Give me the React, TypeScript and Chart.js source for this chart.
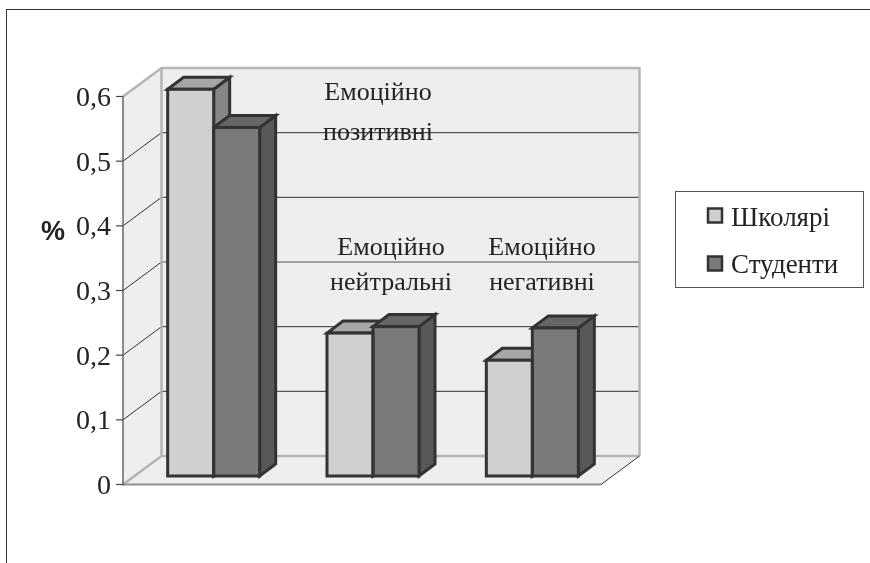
import React, { useEffect, useRef } from "react";
import { Chart, registerables } from "chart.js";

Chart.register(...registerables);

const categories = ["Емоційно позитивні", "Емоційно нейтральні", "Емоційно негативні"];
const school = [0.598, 0.221, 0.179];
const students = [0.539, 0.231, 0.229];
const seriesNames = ["Школярі", "Студенти"];
const yTicks = [0, 0.1, 0.2, 0.3, 0.4, 0.5, 0.6];

const SERIF = '"Liberation Serif", "Times New Roman", serif';
const TEXT = "#232323";
const EDGE = "#333333";
const FRONT = ["#d0d0d0", "#7a7a7a"];
const TOP = ["#a6a6a6", "#666666"];
const SIDE = ["#868686", "#585858"];

const WALL_DX = 38.5;
const WALL_DY = -28.5;
const BAR_DX = 16;
const BAR_DY = -12;
const FLOOR_SHIFT_X = 11;
const FLOOR_SHIFT_PX = 8.5;
const UNIT_PX = 388 / 0.6;

const LABEL_LINES = [
  { x: 378, y: [93, 133], lines: ["Емоційно", "позитивні"] },
  { x: 391, y: [248, 283], lines: ["Емоційно", "нейтральні"] },
  { x: 542, y: [248, 283], lines: ["Емоційно", "негативні"] },
];

function poly(ctx: CanvasRenderingContext2D, pts: number[][], fill?: string) {
  ctx.beginPath();
  pts.forEach((p, i) => (i ? ctx.lineTo(p[0], p[1]) : ctx.moveTo(p[0], p[1])));
  ctx.closePath();
  if (fill) {
    ctx.fillStyle = fill;
    ctx.fill();
  }
}

function seg(ctx: CanvasRenderingContext2D, a: number[], b: number[], color: string, w: number) {
  ctx.beginPath();
  ctx.moveTo(a[0], a[1]);
  ctx.lineTo(b[0], b[1]);
  ctx.strokeStyle = color;
  ctx.lineWidth = w;
  ctx.stroke();
}

const scene3d = {
  id: "scene3d",
  beforeDatasetsDraw(chart: any) {
    const ctx = chart.ctx as CanvasRenderingContext2D;
    const { left, right, top, bottom } = chart.chartArea;
    const y = chart.scales.y;
    const x0 = left - FLOOR_SHIFT_X;
    const x1 = right - FLOOR_SHIFT_X;
    const dx = WALL_DX;
    const dy = WALL_DY;
    ctx.save();
    // walls and floor
    poly(ctx, [[x0, bottom], [x0 + dx, bottom + dy], [x0 + dx, top + dy], [x0, top]], "#eeeeee");
    poly(ctx, [[x0 + dx, top + dy], [x1 + dx, top + dy], [x1 + dx, bottom + dy], [x0 + dx, bottom + dy]], "#eeeeee");
    poly(ctx, [[x0, bottom], [x1, bottom], [x1 + dx, bottom + dy], [x0 + dx, bottom + dy]], "#eeeeee");
    // gridlines
    yTicks.slice(1, -1).forEach((v) => {
      const p = y.getPixelForValue(v);
      seg(ctx, [x0, p], [x0 + dx, p + dy], "#333333", 1);
      seg(ctx, [x0 + dx, p + dy], [x1 + dx, p + dy], "#555555", 1.2);
    });
    // frame
    const grey = "#b5b5b5";
    seg(ctx, [x0, top], [x0 + dx, top + dy], grey, 2.5);
    seg(ctx, [x0, bottom], [x0 + dx, bottom + dy], grey, 2.5);
    seg(ctx, [x0 + dx, top + dy - 1], [x0 + dx, bottom + dy], grey, 2.5);
    seg(ctx, [x0 + dx - 1, top + dy], [x1 + dx + 1, top + dy], grey, 2.5);
    seg(ctx, [x1 + dx, top + dy], [x1 + dx, bottom + dy], grey, 2.5);
    seg(ctx, [x0 + dx, bottom + dy], [x1 + dx, bottom + dy], grey, 2.5);
    seg(ctx, [x1, bottom], [x1 + dx, bottom + dy], "#333333", 1);
    seg(ctx, [x0, bottom], [x1, bottom], "#8f8f8f", 2);
    // y axis
    seg(ctx, [x0, top], [x0, bottom + 1], "#666666", 1.5);
    yTicks.forEach((v) => {
      const p = y.getPixelForValue(v);
      seg(ctx, [x0 - 7, p], [x0, p], "#444444", 1.2);
    });
    // bar sides, back to front
    ctx.lineJoin = "miter";
    chart.data.datasets.forEach((_: any, di: number) => {
      chart.getDatasetMeta(di).data.forEach((b: any) => {
        const l = b.x - b.width / 2;
        const r = b.x + b.width / 2;
        const t = b.y;
        const base = b.base;
        ctx.strokeStyle = EDGE;
        ctx.lineWidth = 3;
        poly(ctx, [[r, t], [r + BAR_DX, t + BAR_DY], [r + BAR_DX, base + BAR_DY], [r, base]], SIDE[di]);
        ctx.stroke();
        poly(ctx, [[l, t], [l + BAR_DX, t + BAR_DY], [r + BAR_DX, t + BAR_DY], [r, t]], TOP[di]);
        ctx.stroke();
      });
    });
    ctx.restore();
  },
  afterDatasetsDraw(chart: any) {
    const ctx = chart.ctx as CanvasRenderingContext2D;
    ctx.save();
    // front outlines, students then school
    [1, 0].forEach((di) => {
      chart.getDatasetMeta(di).data.forEach((b: any) => {
        ctx.strokeStyle = EDGE;
        ctx.lineWidth = 3;
        ctx.strokeRect(b.x - b.width / 2, b.y, b.width, b.base - b.y);
      });
    });
    // category text
    ctx.fillStyle = TEXT;
    ctx.font = `26px ${SERIF}`;
    ctx.textAlign = "center";
    ctx.textBaseline = "middle";
    LABEL_LINES.forEach((g) => {
      g.lines.forEach((t, i) => ctx.fillText(t, g.x, g.y[i]));
    });
    // axis title
    ctx.font = 'bold 27px "Liberation Sans", Arial, sans-serif';
    ctx.fillText("%", 53, 233);
    // legend
    ctx.fillStyle = "#ffffff";
    ctx.fillRect(675.5, 191.5, 188, 96);
    ctx.strokeStyle = "#555555";
    ctx.lineWidth = 1;
    ctx.strokeRect(675.5, 191.5, 188, 96);
    seriesNames.forEach((name, i) => {
      const ty = i === 0 ? 208.5 : 256.5;
      ctx.fillStyle = FRONT[i];
      ctx.fillRect(708, ty, 14, 14);
      ctx.strokeStyle = EDGE;
      ctx.lineWidth = 2.5;
      ctx.strokeRect(708, ty, 14, 14);
      ctx.fillStyle = TEXT;
      ctx.font = `27px ${SERIF}`;
      ctx.textAlign = "left";
      ctx.fillText(name, 731, i === 0 ? ty + 10 : ty + 9);
    });
    // outer frame
    seg(ctx, [6, 9.5], [870, 9.5], "#333333", 1);
    seg(ctx, [6.5, 9], [6.5, 563], "#333333", 1);
    ctx.restore();
  },
};

export default function App() {
  const ref = useRef<HTMLCanvasElement>(null);
  useEffect(() => {
    const chart = new Chart(ref.current as HTMLCanvasElement, {
      type: "bar",
      data: {
        labels: categories,
        datasets: [
          { label: seriesNames[0], data: school, backgroundColor: FRONT[0], borderWidth: 0, yAxisID: "bars", clip: false },
          { label: seriesNames[1], data: students, backgroundColor: FRONT[1], borderWidth: 0, yAxisID: "bars", clip: false },
        ],
      },
      options: {
        responsive: false,
        animation: false,
        devicePixelRatio: 1,
        layout: { padding: { left: 0, top: 96.5, right: 258, bottom: 78.5 } },
        plugins: { legend: { display: false }, tooltip: { enabled: false }, title: { display: false } },
        datasets: { bar: { categoryPercentage: 92 / 159.33, barPercentage: 1 } },
        scales: {
          x: { display: false, offset: true },
          y: {
            position: "left",
            min: 0,
            max: 0.6,
            grid: { display: false },
            border: { display: false },
            afterFit: (s: any) => {
              s.width = 134;
            },
            ticks: {
              stepSize: 0.1,
              padding: 15,
              labelOffset: 2,
              color: TEXT,
              font: { family: SERIF, size: 28 },
              callback: (v: any) => (v === 0 ? "0" : Number(v).toFixed(1).replace(".", ",")),
            },
          },
          bars: {
            display: false,
            position: "left",
            min: -FLOOR_SHIFT_PX / UNIT_PX,
            max: 0.6 - FLOOR_SHIFT_PX / UNIT_PX,
          },
        },
      } as any,
      plugins: [scene3d] as any,
    });
    return () => chart.destroy();
  }, []);
  return (
    <canvas
      ref={ref}
      width={870}
      height={563}
      style={{ position: "absolute", left: 0, top: 0, width: 870, height: 563, display: "block", background: "#ffffff" }}
    />
  );
}
